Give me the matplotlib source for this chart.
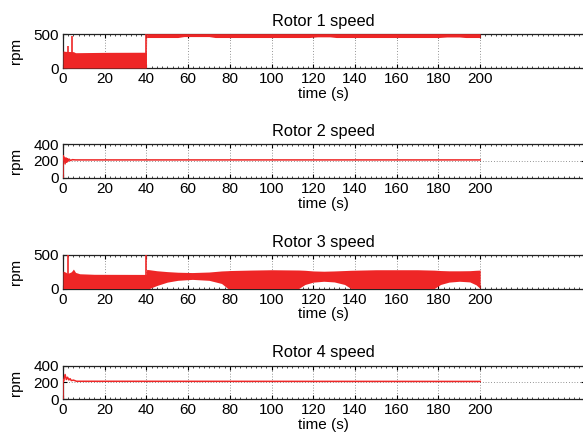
import matplotlib
matplotlib.use("Agg")
import matplotlib.pyplot as plt
from matplotlib.ticker import MultipleLocator

plt.rcParams['font.family'] = ['Liberation Sans', 'DejaVu Sans']
FS = 11

RED = '#ee2626'

# ---- Rotor 1: envelope of the fast-switching speed signal ----
r1_time = [0, 1, 5, 6, 20, 39.9, 40.1, 55, 58, 70, 73, 118, 122, 128, 131, 180, 184, 190, 193, 200]
r1_upper = [250, 245, 240, 225, 230, 232, 505, 505, 505, 505, 505, 505, 505, 505, 505, 505, 505, 505, 505, 505]
r1_lower = [0, 0, 0, 0, 0, 0, 448, 448, 462, 462, 448, 448, 458, 458, 448, 448, 456, 456, 448, 448]
r1_spike_t = [2.3, 4.3, 40.0]
r1_spike_v = [320, 470, 500]

# ---- Rotor 2: settled speed trace ----
r2_time = [0, 0, 0.6, 1.0, 1.4, 1.8, 2.2, 2.6, 3.0, 3.6, 4.5, 6, 200]
r2_speed = [0, 265, 240, 165, 238, 185, 228, 200, 222, 206, 216, 213, 213]

# ---- Rotor 3: envelope of the fast-switching speed signal ----
r3_time = [0, 1.5, 2.0, 3.0, 4.0, 5.0, 6.0, 8.0, 15, 39.9, 40.1, 41.5, 45, 50, 55, 62,
           70, 76, 79, 80, 90, 100, 113, 116, 120, 125, 130, 135, 138, 150, 170,
           178, 181, 185, 190, 195, 198, 200]
r3_upper = [260, 240, 225, 235, 250, 290, 240, 220, 212, 210, 285, 280, 265, 252, 243, 238,
            246, 262, 266, 268, 275, 280, 276, 272, 262, 258, 262, 268, 272, 280, 280,
            274, 268, 264, 264, 266, 272, 275]
r3_lower = [0, 0, 0, 0, 0, 0, 0, 0, 0, 0, 0, 0, 45, 95, 122, 136,
            122, 75, 0, 0, 0, 0, 0, 60, 95, 108, 98, 60, 0, 0, 0,
            0, 60, 95, 108, 98, 55, 0]
r3_spike_t = [2.3, 40.0]
r3_spike_v = [500, 500]

# ---- Rotor 4: settled speed trace ----
r4_time = [0, 0, 0.3, 1.0, 1.6, 2.2, 2.8, 3.4, 4.0, 5.0, 6.5, 200]
r4_speed = [0, 230, 215, 295, 235, 262, 230, 245, 222, 228, 214, 212]

titles = ['Rotor 1 speed', 'Rotor 2 speed', 'Rotor 3 speed', 'Rotor 4 speed']
y_limits = [(0, 500), (0, 400), (0, 500), (0, 400)]
y_ticks = [[0, 500], [0, 200, 400], [0, 500], [0, 200, 400]]
x_ticks = list(range(0, 201, 20))

fig = plt.figure(figsize=(5.83, 4.43), dpi=100)

W, H = 583.0, 443.0
left_px, right_px = 63.0, 584.5
boxes_px = [(34, 68), (144.3, 177.7), (255, 288.5), (365.7, 399.2)]

axes = []
for (top, bot) in boxes_px:
    ax = fig.add_axes([left_px / W, 1 - bot / H, (right_px - left_px) / W, (bot - top) / H])
    axes.append(ax)

# Rotor 1
ax = axes[0]
ax.fill_between(r1_time, r1_lower, r1_upper, color=RED, lw=0, zorder=3, clip_on=False)
ax.vlines(r1_spike_t, 0, r1_spike_v, color=RED, lw=1.2, zorder=3)

# Rotor 2
ax = axes[1]
ax.plot(r2_time, r2_speed, color=RED, lw=1.1, zorder=3)

# Rotor 3
ax = axes[2]
ax.fill_between(r3_time, r3_lower, r3_upper, color=RED, lw=0, zorder=3)
ax.vlines(r3_spike_t, 0, r3_spike_v, color=RED, lw=1.2, zorder=3)

# Rotor 4
ax = axes[3]
ax.plot(r4_time, r4_speed, color=RED, lw=1.1, zorder=3)

width_px = right_px - left_px
for ax, title, ylim, yt in zip(axes, titles, y_limits, y_ticks):
    ax.set_xlim(0, 250)
    ax.set_ylim(*ylim)
    ax.set_xticks(x_ticks)
    ax.set_yticks(yt)
    ax.xaxis.set_minor_locator(MultipleLocator(2.5))
    ax.tick_params(which='major', direction='in', length=3, width=0.8,
                   top=True, right=True, pad=3, labelsize=FS)
    ax.tick_params(which='minor', direction='in', length=1.2, width=0.5,
                   top=True, bottom=True)
    ax.tick_params(axis='x', which='major', pad=3)
    ax.grid(True, which='major', color='#333333', linestyle=(0, (1, 3)), linewidth=0.5)
    for s in ax.spines.values():
        s.set_linewidth(0.9)
        s.set_color('#222222')
    ax.set_title(title, fontsize=11.8, pad=6)
    ax.set_xlabel('time (s)', fontsize=FS, labelpad=0.5)
    ax.set_ylabel('rpm', fontsize=FS)
    ax.yaxis.set_label_coords(-40.0 / width_px, 0.5)

fig.savefig('out.png', dpi=100)
